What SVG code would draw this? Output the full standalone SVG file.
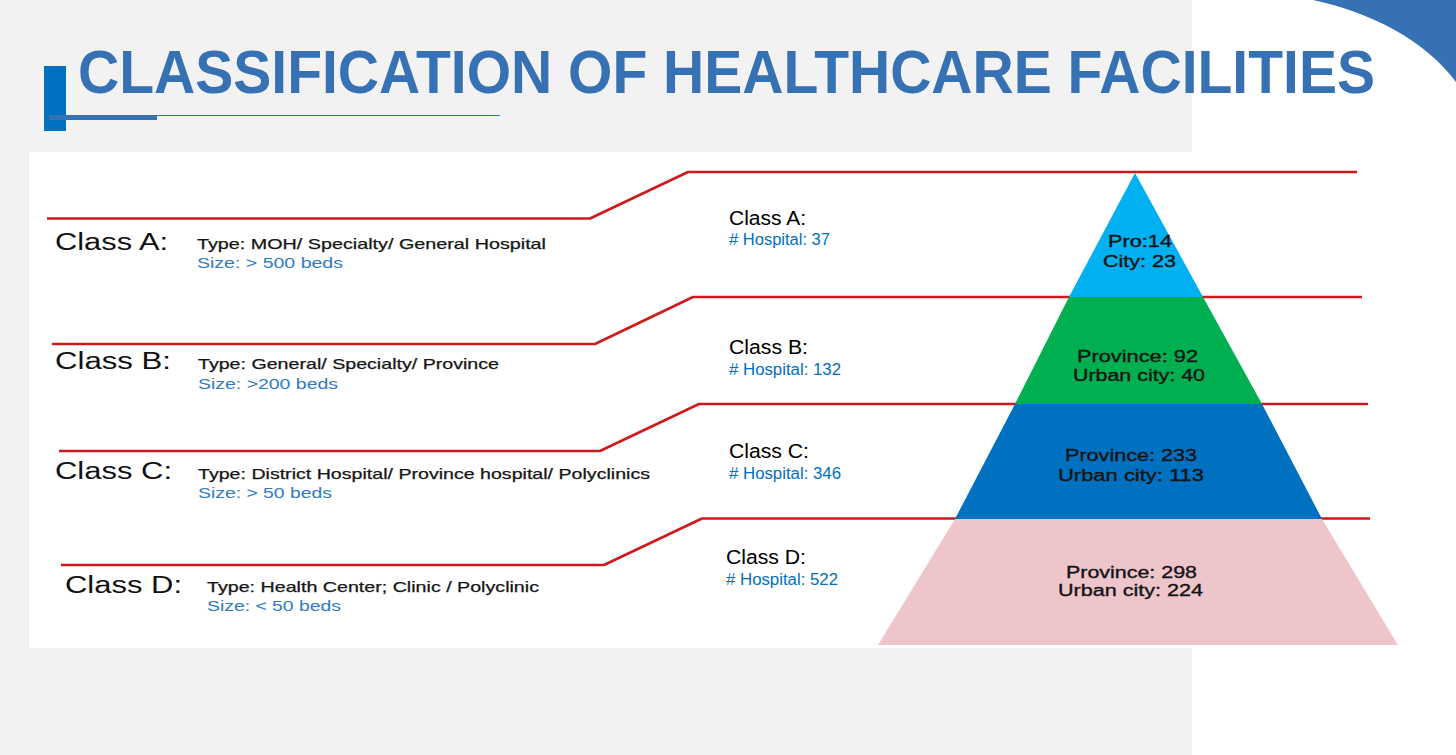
<svg xmlns="http://www.w3.org/2000/svg" width="1456" height="755" viewBox="0 0 1456 755">
<style>
text{font-family:"Liberation Sans",Arial,sans-serif}
.title{font-size:62px;font-weight:bold;fill:#3671b4}
.cls{font-size:23.5px;fill:#111}
.typ{font-size:14.5px;fill:#161616;stroke:#161616;stroke-width:0.25}
.size{font-size:14.5px;fill:#2f7bc4}
.mcls{font-size:19.5px;fill:#000}
.hosp{font-size:16px;fill:#0070c0}
.pyr{font-size:16px;fill:#141414;stroke:#141414;stroke-width:0.35}
.red{fill:none;stroke:#cc1a1d;stroke-width:2.6;stroke-linejoin:round}
</style>
<rect x="0" y="0" width="1456" height="755" fill="#ffffff"/>
<rect x="0" y="0" width="1192" height="755" fill="#f2f2f2"/>
<path d="M1313,0 C1370,12 1425,40 1456,82 L1456,0 Z" fill="#3671b4"/>
<g id="title">
<rect x="44" y="66" width="22" height="65" fill="#0070c0"/>
<rect x="49" y="115" width="108" height="5" fill="#3671b4"/>
<line x1="157" y1="115.5" x2="500" y2="115.5" stroke="#3671b4" stroke-width="1"/>
<text class="title" x="78" y="93" textLength="1297" lengthAdjust="spacingAndGlyphs">CLASSIFICATION OF HEALTHCARE FACILITIES</text>
</g>
<rect x="29" y="152" width="1163" height="496" fill="#ffffff"/>
<g id="connectors">
<polyline class="red" points="47,218.5 590,218.5 688,172 1357,172"/>
<polyline class="red" points="52,344 595,344 693,297 1362,297"/>
<polyline class="red" points="59,451 600,451 699,404 1368,404"/>
<polyline class="red" points="61,565 604,565 702,518.5 1370,518.5"/>
</g>
<g id="pyramid">
<polygon id="tierA" points="1135,173 1203,297 1069,297" fill="#00b0f0"/>
<polygon id="tierB" points="1069,297 1203,297 1262,404 1015,404" fill="#00b050"/>
<polygon id="tierC" points="1015,404 1262,404 1322,519 955,519" fill="#0070c0"/>
<polygon id="tierD" points="955,519 1322,519 1398,645 878,645" fill="#efc5cc"/>
<text class="pyr" x="1108" y="247" textLength="64" lengthAdjust="spacingAndGlyphs">Pro:14</text>
<text class="pyr" x="1103" y="267" textLength="73" lengthAdjust="spacingAndGlyphs">City: 23</text>
<text class="pyr" x="1077" y="362" textLength="121" lengthAdjust="spacingAndGlyphs">Province: 92</text>
<text class="pyr" x="1073" y="381" textLength="132" lengthAdjust="spacingAndGlyphs">Urban city: 40</text>
<text class="pyr" x="1065" y="461" textLength="132" lengthAdjust="spacingAndGlyphs">Province: 233</text>
<text class="pyr" x="1058" y="481" textLength="146" lengthAdjust="spacingAndGlyphs">Urban city: 113</text>
<text class="pyr" x="1066" y="578" textLength="131" lengthAdjust="spacingAndGlyphs">Province: 298</text>
<text class="pyr" x="1058" y="596" textLength="145" lengthAdjust="spacingAndGlyphs">Urban city: 224</text>
</g>
<g id="classA">
<text class="cls" x="55" y="250" textLength="113" lengthAdjust="spacingAndGlyphs">Class A:</text>
<text class="typ" x="197" y="249" textLength="349" lengthAdjust="spacingAndGlyphs">Type: MOH/ Specialty/ General Hospital</text>
<text class="size" x="197" y="268" textLength="146" lengthAdjust="spacingAndGlyphs">Size: &gt; 500 beds</text>
<text class="mcls" x="729" y="225" textLength="77" lengthAdjust="spacingAndGlyphs">Class A:</text>
<text class="hosp" x="729" y="245" textLength="101" lengthAdjust="spacingAndGlyphs"># Hospital: 37</text>
</g>
<g id="classB">
<text class="cls" x="55" y="369" textLength="116" lengthAdjust="spacingAndGlyphs">Class B:</text>
<text class="typ" x="198" y="369" textLength="301" lengthAdjust="spacingAndGlyphs">Type: General/ Specialty/ Province</text>
<text class="size" x="198" y="389" textLength="140" lengthAdjust="spacingAndGlyphs">Size: &gt;200 beds</text>
<text class="mcls" x="729" y="354" textLength="79" lengthAdjust="spacingAndGlyphs">Class B:</text>
<text class="hosp" x="729" y="375" textLength="112" lengthAdjust="spacingAndGlyphs"># Hospital: 132</text>
</g>
<g id="classC">
<text class="cls" x="55" y="479" textLength="117" lengthAdjust="spacingAndGlyphs">Class C:</text>
<text class="typ" x="198" y="479" textLength="452" lengthAdjust="spacingAndGlyphs">Type: District Hospital/ Province hospital/ Polyclinics</text>
<text class="size" x="198" y="498" textLength="134" lengthAdjust="spacingAndGlyphs">Size: &gt; 50 beds</text>
<text class="mcls" x="729" y="458" textLength="80" lengthAdjust="spacingAndGlyphs">Class C:</text>
<text class="hosp" x="729" y="479" textLength="112" lengthAdjust="spacingAndGlyphs"># Hospital: 346</text>
</g>
<g id="classD">
<text class="cls" x="65" y="593" textLength="117" lengthAdjust="spacingAndGlyphs">Class D:</text>
<text class="typ" x="207" y="592" textLength="332" lengthAdjust="spacingAndGlyphs">Type: Health Center; Clinic / Polyclinic</text>
<text class="size" x="207" y="611" textLength="134" lengthAdjust="spacingAndGlyphs">Size: &lt; 50 beds</text>
<text class="mcls" x="726" y="564" textLength="80" lengthAdjust="spacingAndGlyphs">Class D:</text>
<text class="hosp" x="726" y="585" textLength="112" lengthAdjust="spacingAndGlyphs"># Hospital: 522</text>
</g>
</svg>
